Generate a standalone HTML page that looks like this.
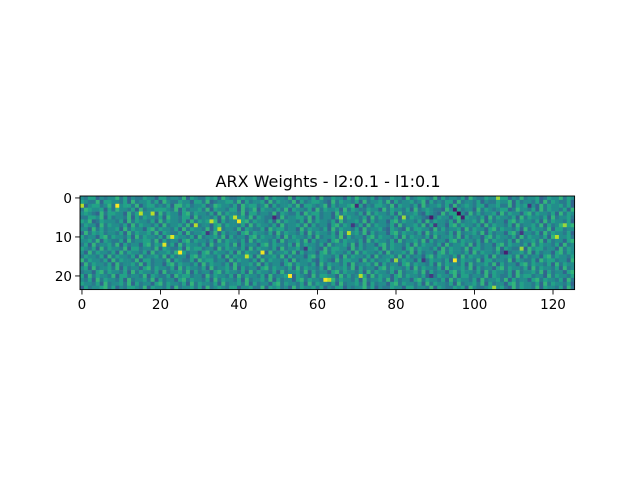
<!DOCTYPE html>
<html><head><meta charset="utf-8"><style>
body{margin:0;background:#fff;width:640px;height:480px;overflow:hidden}
svg text{font-family:"DejaVu Sans","Liberation Sans",sans-serif;fill:#000}
</style></head><body>
<svg id="chart" width="640" height="480" viewBox="0 0 640 480">
<text x="328" y="187" font-size="16" text-anchor="middle">ARX Weights - l2:0.1 - l1:0.1</text>
<g id="cells"></g>
<rect x="80" y="196" width="494.6" height="93.6" fill="none" stroke="#000" stroke-width="0.9"/>
<g id="xaxis"></g>
<g id="yaxis"></g>
</svg>
<script>
const nRows = 24;
const nCols = 126;
const rowData = [
"546635455746354465536 645547365446563754456 556437465547365546374 465536475546354465537 456654736455463754465 546635474556346557465",
"654473665546374556463 754465536647345566473 645563746554736456654 374655463745564736455 645736454663745546354 465573645546374654463",
"835664574356647356645 463775645563476554637 566457364556473665457 364556746354665473655 463745564637456546635 564473656453746556463",
"476556364755463745566 654736455647365546637 457365546473655463746 556374654465537465546 374565443756645537465 456634755463746554637",
"565437466553746455637 465536746554637465547 366455473654463756645 537465546374655463745 564365437466553746455 637465536746554637465",
"446657364554736465546 375546637455463746556 473654463745566473645 536746554637465546374 655430465536746554637 465546374655463745564",
"657346555463746554637 465546374656473645536 746554637465546374655 463745564736455367465 546374655463745564736 455367465546374655463",
"465537465546374655463 745564736455367465546 374655463745564736455 367465546374655463745 564736455367465546374 655463745564736457367",
"553746455637465536746 554637465547366455473 654463756645537465546 374655463745564365437 466553746455637465536 746554637465547366455",
"374656455463746556473 654463745566473645536 746554637465546374655 463745564736455367465 546374655463745564736 455367465546374655463",
"645536746554637465546 374655463745564736455 367465546374655463745 564736455367465546374 655463745564736455367 465546374655463745564",
"556473654463745566473 645536746554637465546 374655463745564736455 367465546374655463745 564736455367465546374 655463745564736455367",
"463745564736455367465 546374655463745564736 455367465546374655463 745564736455367465546 374655463745564736455 367465546374655463745",
"654637465547366455473 654463756645537465546 374655463745564365437 466553746455637465536 746554637465547366455 473654463756645537465",
"537465546374655463745 564736455367465546374 655463745564736455367 465546374655463745564 736455367465546374655 463745564736455367465",
"465546374655463745564 736455367465546374655 463745564736455367465 546374655463745564736 455367465546374655463 745564736455367465546",
"746554637465547366455 473654463756645537465 546374655463745564365 437466553746455637465 536746554637465547366 455473654463756645537",
"374655463745564736455 367465546374655463745 564736455367465546374 655463745564736455367 465546374655463745564 736455367465546374655",
"563745564736455367465 546374655463745564736 455367465546374655463 745564736455367465546 374655463745564736455 367465546374655463745",
"455367465546374655463 745564736455367465546 374655463745564736455 367465546374655463745 564736455367465546374 655463745564736455367",
"637465547366455473654 463756645537465546374 655463745564365437466 553746455637465536746 554637465547366455473 654463756645537465546",
"546374655463745564736 455367465546374655463 745564736455367465546 374655463745564736455 367465546374655463745 564736455367465546374",
"655463745564736455367 465546374655463745564 736455367465546374655 463745564736455367465 546374655463745564736 455367465546374655463",
"364556746354665473655 463745564637456546635 564473656453746556463 546635455746354465536 645547365446563754456 556437465547365546374"
];
const highlightRows = [2,14,12,10,4,4,7,2,6,5,6,8,14,15,20,21,5,9,13,2,7,7,16,20,5,9,5,21,20,16,16,4,3,5,14,9,2,10,7,0,13,23];
const highlightCols = [9,25,21,23,18,15,29,0,40,39,33,35,46,42,53,62,49,32,57,70,69,90,87,89,66,68,82,63,71,80,95,96,95,97,108,112,114,121,123,106,112,105];
const highlightVals = [9.2,9.2,8.6,8.6,8,8,8,8,8.8,8.2,8.2,8,8.8,8.2,9.2,8.8,1,1.5,1.5,1,1.5,1.5,1.5,1.5,7.6,8,7.6,8,8,7.6,9.2,0,0.8,0.8,0.8,1.5,1.5,8,7.6,7.6,7.6,7.6];
const xTicks = [0,20,40,60,80,100,120];
const yTicks = [0,10,20];

const X0=80, Y0=196, CW=494.6/nCols, CH=93.6/nRows;
const xs = c => X0 + (c+0.5)*CW;
const ys = r => Y0 + (r+0.5)*CH;
const vir=[[68,1,84],[72,40,120],[62,74,137],[49,104,142],[38,130,142],[31,158,137],[53,183,121],[110,206,88],[181,222,43],[253,231,37]];
function color(v){v=Math.max(0,Math.min(9,v));const i=Math.min(8,Math.floor(v)),t=v-i,a=vir[i],b=vir[i+1];
 return `rgb(${a.map((x,k)=>Math.round(x+(b[k]-x)*t)).join(',')})`;}
const grid = rowData.map(s=>{let t=s.replace(/ /g,'');while(t.length<nCols)t+='5';return t.slice(0,nCols).split('').map(d=>4.4+(Number(d)-5)*0.75);});
highlightRows.forEach((r,i)=>{grid[r][highlightCols[i]]=highlightVals[i];});
const NS='http://www.w3.org/2000/svg';
const g=document.getElementById('cells');
grid.forEach((row,r)=>row.forEach((v,c)=>{
 const el=document.createElementNS(NS,'rect');
 
 
 el.setAttribute('x',xs(c)-CW/2);el.setAttribute('y',ys(r)-CH/2);
 el.setAttribute('width',CW+0.3);el.setAttribute('height',CH+0.3);
 el.setAttribute('fill',color(v));g.appendChild(el);
}));
const xa=document.getElementById('xaxis');
xTicks.forEach(t=>{
 const l=document.createElementNS(NS,'line');
 
 
 l.setAttribute('x1',xs(t));l.setAttribute('x2',xs(t));l.setAttribute('y1',289.6);l.setAttribute('y2',294.5);l.setAttribute('stroke','#000');l.setAttribute('stroke-width','0.9');xa.appendChild(l);
 const tx=document.createElementNS(NS,'text');
 
 
 tx.setAttribute('x',xs(t));tx.setAttribute('y',309);tx.setAttribute('font-size','13.5');tx.setAttribute('text-anchor','middle');tx.textContent=t;xa.appendChild(tx);
});
const ya=document.getElementById('yaxis');
yTicks.forEach(t=>{
 const l=document.createElementNS(NS,'line');
 
 
 l.setAttribute('x1',75.1);l.setAttribute('x2',80);l.setAttribute('y1',ys(t));l.setAttribute('y2',ys(t));l.setAttribute('stroke','#000');l.setAttribute('stroke-width','0.9');ya.appendChild(l);
 const tx=document.createElementNS(NS,'text');
 
 
 tx.setAttribute('x',72);tx.setAttribute('y',ys(t)+5);tx.setAttribute('font-size','13.5');tx.setAttribute('text-anchor','end');tx.textContent=t;ya.appendChild(tx);
});
</script>
</body></html>
